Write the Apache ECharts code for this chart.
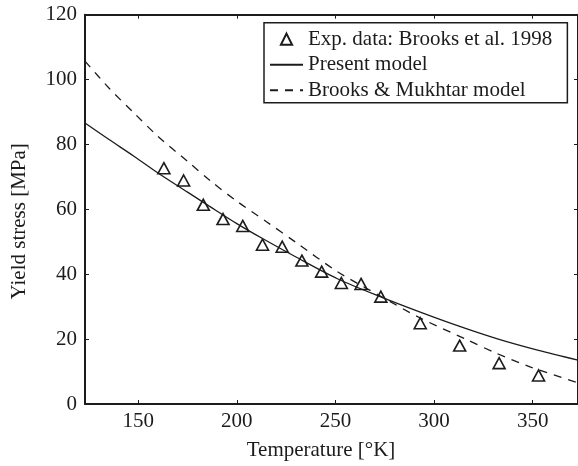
<!DOCTYPE html>
<html>
<head>
<meta charset="utf-8">
<script src="https://cdn.jsdelivr.net/npm/echarts@6/dist/echarts.min.js"></script>
<style>
  html, body { margin: 0; padding: 0; background: #fff; }
  #chart { width: 578px; height: 466px; }
</style>
</head>
<body>
<div id="chart"></div>
<script>
// Experimental data (triangles)
const expTemps = [163, 173, 183, 193, 203, 213, 223, 233, 243, 253, 263, 273, 293, 313, 333, 353];
const expStress = [72.7, 68.9, 61.4, 57.0, 54.9, 49.1, 48.5, 44.2, 40.8, 37.3, 37.0, 33.1, 24.9, 18.0, 12.6, 8.8];

// Present model (solid curve)
const presentTemps = [123, 135, 148, 160, 175, 186, 200, 213, 230, 251, 273, 293, 313, 333, 353, 373];
const presentStress = [86.6, 81.6, 76.3, 71.2, 65.3, 61.0, 55.6, 51.0, 45.3, 38.6, 33.0, 28.3, 23.9, 19.9, 16.5, 13.5];

// Brooks & Mukhtar model (dashed curve)
const bmTemps = [123, 135, 148, 160, 175, 187, 200, 215, 230, 251, 273, 293, 316, 331, 349, 373];
const bmStress = [105.7, 97.5, 89.6, 82.5, 74.8, 68.6, 62.5, 56.2, 49.8, 40.8, 33.2, 26.5, 20.0, 15.8, 11.4, 6.5];

// Axis ticks
const xTickValues = [150, 200, 250, 300, 350];
const xRange = [123, 373];
const yRange = [0, 120];
const yStep = 20;

const seriesNames = ['Exp. data: Brooks et al. 1998', 'Present model', 'Brooks & Mukhtar model'];
const xName = 'Temperature [°K]';
const yName = 'Yield stress [MPa]';

const ink = '#1c1c1c';
const font = 'Liberation Serif';

function pairs(xs, ys) { return xs.map((x, i) => [x, ys[i]]); }

const chart = echarts.init(document.getElementById('chart'), null, { renderer: 'canvas' });

const axisCommon = {
  axisLine: { show: true, onZero: false, lineStyle: { color: ink, width: 2 } },
  splitLine: { show: false }
};

chart.setOption({
  animation: false,
  backgroundColor: '#fff',
  grid: { left: 85, top: 14.7, width: 494, height: 389.6, containLabel: false },
  legend: {
    orient: 'vertical',
    left: 264,
    top: 22.7,
    padding: [6, 15, 2, 5],
    itemWidth: 33,
    itemHeight: 14,
    itemGap: 4.5,
    borderColor: ink,
    borderWidth: 1.5,
    backgroundColor: '#fff',
    selectedMode: false,
    textStyle: { fontFamily: font, fontSize: 21, lineHeight: 21, color: ink },
    data: [
      { name: seriesNames[0] },
      { name: seriesNames[1], itemStyle: { opacity: 0 } },
      { name: seriesNames[2], itemStyle: { opacity: 0 } }
    ]
  },
  xAxis: [
    Object.assign({}, axisCommon, {
      type: 'value', position: 'bottom', min: xRange[0], max: xRange[1],
      name: xName, nameLocation: 'middle', nameGap: 36,
      nameTextStyle: { fontFamily: font, fontSize: 21, color: ink, padding: [0, 21, 0, 0] },
      axisTick: { show: true, inside: true, length: 4, customValues: xTickValues, lineStyle: { color: ink, width: 1 } },
      axisLabel: { show: true, customValues: xTickValues, margin: 7, fontFamily: font, fontSize: 21, color: ink }
    }),
    Object.assign({}, axisCommon, {
      type: 'value', position: 'top', min: xRange[0], max: xRange[1],
      axisTick: { show: true, inside: true, length: 4, customValues: xTickValues, lineStyle: { color: ink, width: 1 } },
      axisLabel: { show: false }
    })
  ],
  yAxis: [
    Object.assign({}, axisCommon, {
      type: 'value', position: 'left', min: yRange[0], max: yRange[1], interval: yStep,
      name: yName, nameLocation: 'middle', nameGap: 55,
      nameTextStyle: { fontFamily: font, fontSize: 21, color: ink, padding: [0, 24, 0, 0] },
      axisTick: { show: true, inside: true, length: 4, lineStyle: { color: ink, width: 1 } },
      axisLabel: { show: true, margin: 8, fontFamily: font, fontSize: 21, color: ink }
    }),
    Object.assign({}, axisCommon, {
      type: 'value', position: 'right', min: yRange[0], max: yRange[1], interval: yStep,
      axisTick: { show: true, inside: true, length: 4, lineStyle: { color: ink, width: 1 } },
      axisLabel: { show: false }
    })
  ],
  series: [
    {
      name: seriesNames[0],
      type: 'line',
      data: pairs(expTemps, expStress),
      symbol: 'triangle',
      symbolSize: [12, 11],
      showSymbol: true,
      lineStyle: { width: 0, opacity: 0 },
      itemStyle: { color: 'rgba(255,255,255,0)', borderColor: ink, borderWidth: 1.6 },
      z: 5
    },
    {
      name: seriesNames[1],
      type: 'line',
      data: pairs(presentTemps, presentStress),
      smooth: 0.3,
      symbol: 'none',
      lineStyle: { color: ink, width: 1.3, type: 'solid' },
      itemStyle: { color: ink }
    },
    {
      name: seriesNames[2],
      type: 'line',
      data: pairs(bmTemps, bmStress),
      smooth: 0.3,
      symbol: 'none',
      lineStyle: { color: ink, width: 1.3, type: [8, 7] },
      itemStyle: { color: ink }
    }
  ]
});
</script>
</body>
</html>
